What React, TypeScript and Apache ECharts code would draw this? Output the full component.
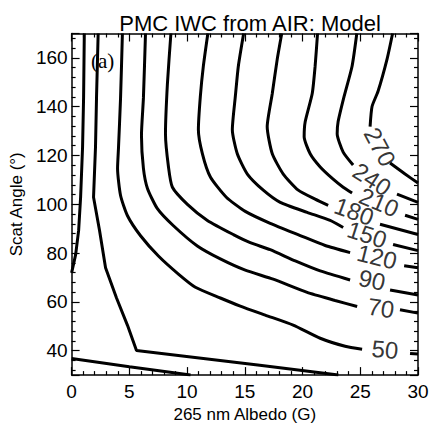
import React, { useEffect, useRef } from "react";
import * as echarts from "echarts";

// ---- axis ranges / ticks ----
const xRange = [0, 30];
const xStep = 5;
const yRange = [30, 170];

// ---- contour lines (albedo G, scattering angle deg); "a" = before label, "b" = after label ----
const c10a = [[1.1, 170], [1.04, 144.2], [0.95, 123.5], [0.78, 102.9], [0.61, 89.3], [0.35, 79.4], [0, 71.9]];
const c10b = [[0, 36.8], [5, 33.4], [10.3, 30]];
const c30 = [[2.3, 170], [2.16, 144.2], [2.07, 123.5], [1.9, 102.9], [2.42, 89.3], [2.94, 74.0], [3.89, 61.6], [4.84, 50.4], [5.62, 40.1], [16.3, 34.0], [23.1, 30]];
const c50a = [[4.4, 170], [4.24, 143.6], [4.06, 123.0], [3.98, 114.7], [4.24, 103.6], [4.84, 95.3], [5.97, 87.1], [7.52, 78.8], [9.25, 71.4], [10.72, 66.0], [12.88, 61.6], [14.61, 58.3], [16.77, 54.6], [19.19, 50.5], [21.53, 45.1], [23.69, 41.8], [25.16, 40.6]];
const c50b = [[29.31, 38.9], [30, 38.6]];
const c70a = [[6.4, 170], [6.22, 143.6], [6.05, 128.3], [6.22, 114.7], [6.57, 106.5], [7.43, 98.2], [8.82, 91.2], [10.89, 82.9], [12.88, 77.6], [15.04, 73.0], [17.46, 69.3], [20.4, 63.9], [22.82, 60.6], [24.73, 58.1]];
const c70b = [[28.44, 56.8], [30, 55.4]];
const c90a = [[8.6, 170], [8.3, 149.6], [8.13, 128.9], [8.39, 115.3], [8.73, 107.0], [10.03, 100.0], [11.76, 93.4], [14.01, 87.6], [15.47, 84.3], [17.2, 81.4], [19.37, 76.8], [21.53, 72.7], [24.12, 69.0]];
const c90b = [[27.58, 64.9], [30, 62.8]];
const c120a = [[11.8, 170], [11.41, 156.6], [11.15, 144.2], [10.98, 130.6], [11.33, 120.7], [12.02, 111.2], [13.4, 102.9], [15.04, 97.1], [17.2, 92.2], [19.8, 87.2], [21.96, 83.1], [24.12, 80.2]];
const c120b = [[28.8, 74.8], [30, 74.0]];
const c150a = [[14.9, 170], [14.44, 156.6], [14.18, 144.2], [13.92, 130.6], [14.35, 120.7], [15.22, 112.4], [16.6, 105.8], [18.07, 100.8], [20.4, 96.7], [22.39, 93.4], [23.52, 90.5]];
const c150b = [[27.84, 83.5], [30, 81.0]];
const c180a = [[18.2, 170], [17.81, 159.5], [17.38, 145.4], [16.94, 131.8], [17.38, 120.7], [18.33, 112.4], [19.63, 105.8], [21.09, 102.1], [22.22, 99.6]];
const c180b = [[26.71, 91.8], [30, 87.6]];
const c210a = [[21.3, 170], [21.09, 156.6], [20.84, 145.4], [20.23, 133.8], [20.14, 127.7], [20.66, 120.7], [21.53, 115.3], [22.65, 110.3], [23.52, 107.0], [24.29, 104.6]];
const c210b = [[28.88, 95.5], [30, 93.8]];
const c240a = [[24.7, 170], [24.29, 156.6], [23.6, 144.2], [23.08, 133.8], [23.0, 128.9], [23.52, 121.4], [24.38, 116.1]];
const c240b = [[28.18, 104.2], [30, 100.8]];
const c270a = [[27.8, 170], [27.32, 159.5], [26.54, 146.3], [26.02, 140.1], [25.85, 131.8]];
const c270b = [[27.58, 116.9], [28.88, 112.4], [30, 108.7]];

// angular (unsmoothed) contours and smooth contours
const sharpSegments = [c10a, c10b, c30];
const smoothSegments = [c50a, c50b, c70a, c70b, c90a, c90b, c120a, c120b, c150a, c150b, c180a, c180b, c210a, c210b, c240a, c240b, c270a, c270b];

// ---- contour labels ----
const labelTexts = ["50", "70", "90", "120", "150", "180", "210", "240", "270"];
const labelX = [27.15, 26.8, 26.02, 26.45, 25.59, 24.47, 26.63, 26.02, 26.71];
const labelY = [40.5, 57.5, 69.0, 78.5, 87.6, 97.1, 100.8, 110.3, 123.5];
// style: label rotation (deg)
const labelRotate = [-5, -8, -12, -14, -18, -20, -23, -33, -62];

const FONT = "'Liberation Sans', Arial, Helvetica, sans-serif";

export default function App() {
  const ref = useRef<HTMLDivElement>(null);
  useEffect(() => {
    if (!ref.current) return;
    const chart = echarts.init(ref.current, null, { renderer: "svg" });
    const axisCommon = {
      type: "value",
      axisLine: { show: true, onZero: false, lineStyle: { color: "#000", width: 1.5 } },
      axisTick: { show: true, inside: true, length: 8, lineStyle: { color: "#000", width: 1.2 } },
      minorTick: { show: true, splitNumber: 5, length: 4, lineStyle: { color: "#000", width: 1.2 } },
      splitLine: { show: false },
      minorSplitLine: { show: false },
    };
    const mk = (seg: number[][], smooth: number | boolean) => ({
      type: "line",
      data: seg,
      showSymbol: false,
      symbol: "none",
      smooth,
      lineStyle: { color: "#000", width: 3 },
      silent: true,
      z: 3,
    });
    const lineSeries = [
      ...sharpSegments.map((s) => mk(s, false)),
      ...smoothSegments.map((s) => mk(s, 0.2)),
    ];
    const labelSeries = {
      type: "scatter",
      symbolSize: 0,
      silent: true,
      z: 4,
      data: labelTexts.map((t, i) => ({
        value: [labelX[i], labelY[i]],
        name: t,
        label: { rotate: labelRotate[i] },
      })),
      label: {
        show: true,
        position: "inside",
        formatter: (p: any) => p.name,
        color: "#000",
        fontSize: 24,
        fontFamily: FONT,
      },
    };
    chart.setOption({
      animation: false,
      backgroundColor: "#fff",
      title: {
        text: "PMC IWC from AIR: Model",
        left: 245,
        top: 7,
        textAlign: "center",
        textStyle: { fontSize: 22, fontWeight: "normal", color: "#000", fontFamily: FONT },
      },
      grid: { left: 71, right: 15, top: 33.5, bottom: 51.5, containLabel: false },
      xAxis: [
        {
          ...axisCommon,
          position: "bottom",
          min: xRange[0],
          max: xRange[1],
          interval: xStep,
          axisLabel: { color: "#000", fontSize: 19, fontFamily: FONT, margin: 7 },
          name: "265 nm Albedo (G)",
          nameLocation: "middle",
          nameGap: 25,
          nameTextStyle: { color: "#000", fontSize: 17, fontFamily: FONT },
        },
        {
          ...axisCommon,
          position: "top",
          min: xRange[0],
          max: xRange[1],
          interval: xStep,
          axisLabel: { show: false },
        },
      ],
      yAxis: [
        {
          ...axisCommon,
          position: "left",
          min: yRange[0],
          max: yRange[1],
          splitNumber: 7,
          axisLabel: {
            color: "#000",
            fontSize: 19,
            fontFamily: FONT,
            margin: 4,
            showMinLabel: false,
            showMaxLabel: false,
            formatter: (v: number) => (v % 20 === 0 ? String(v) : ""),
          },
          name: "Scat Angle (°)",
          nameLocation: "middle",
          nameGap: 44,
          nameTextStyle: { color: "#000", fontSize: 17, fontFamily: FONT },
        },
        {
          ...axisCommon,
          position: "right",
          min: yRange[0],
          max: yRange[1],
          splitNumber: 7,
          axisLabel: { show: false },
        },
      ],
      graphic: [
        {
          type: "text",
          left: 91,
          top: 50,
          style: { text: "(a)", font: "21px 'Liberation Serif', 'Times New Roman', serif", fill: "#000" },
        },
      ],
      series: [...lineSeries, labelSeries],
    });
    return () => chart.dispose();
  }, []);
  return <div ref={ref} style={{ position: "fixed", left: 0, top: 0, width: 433, height: 428 }} />;
}
